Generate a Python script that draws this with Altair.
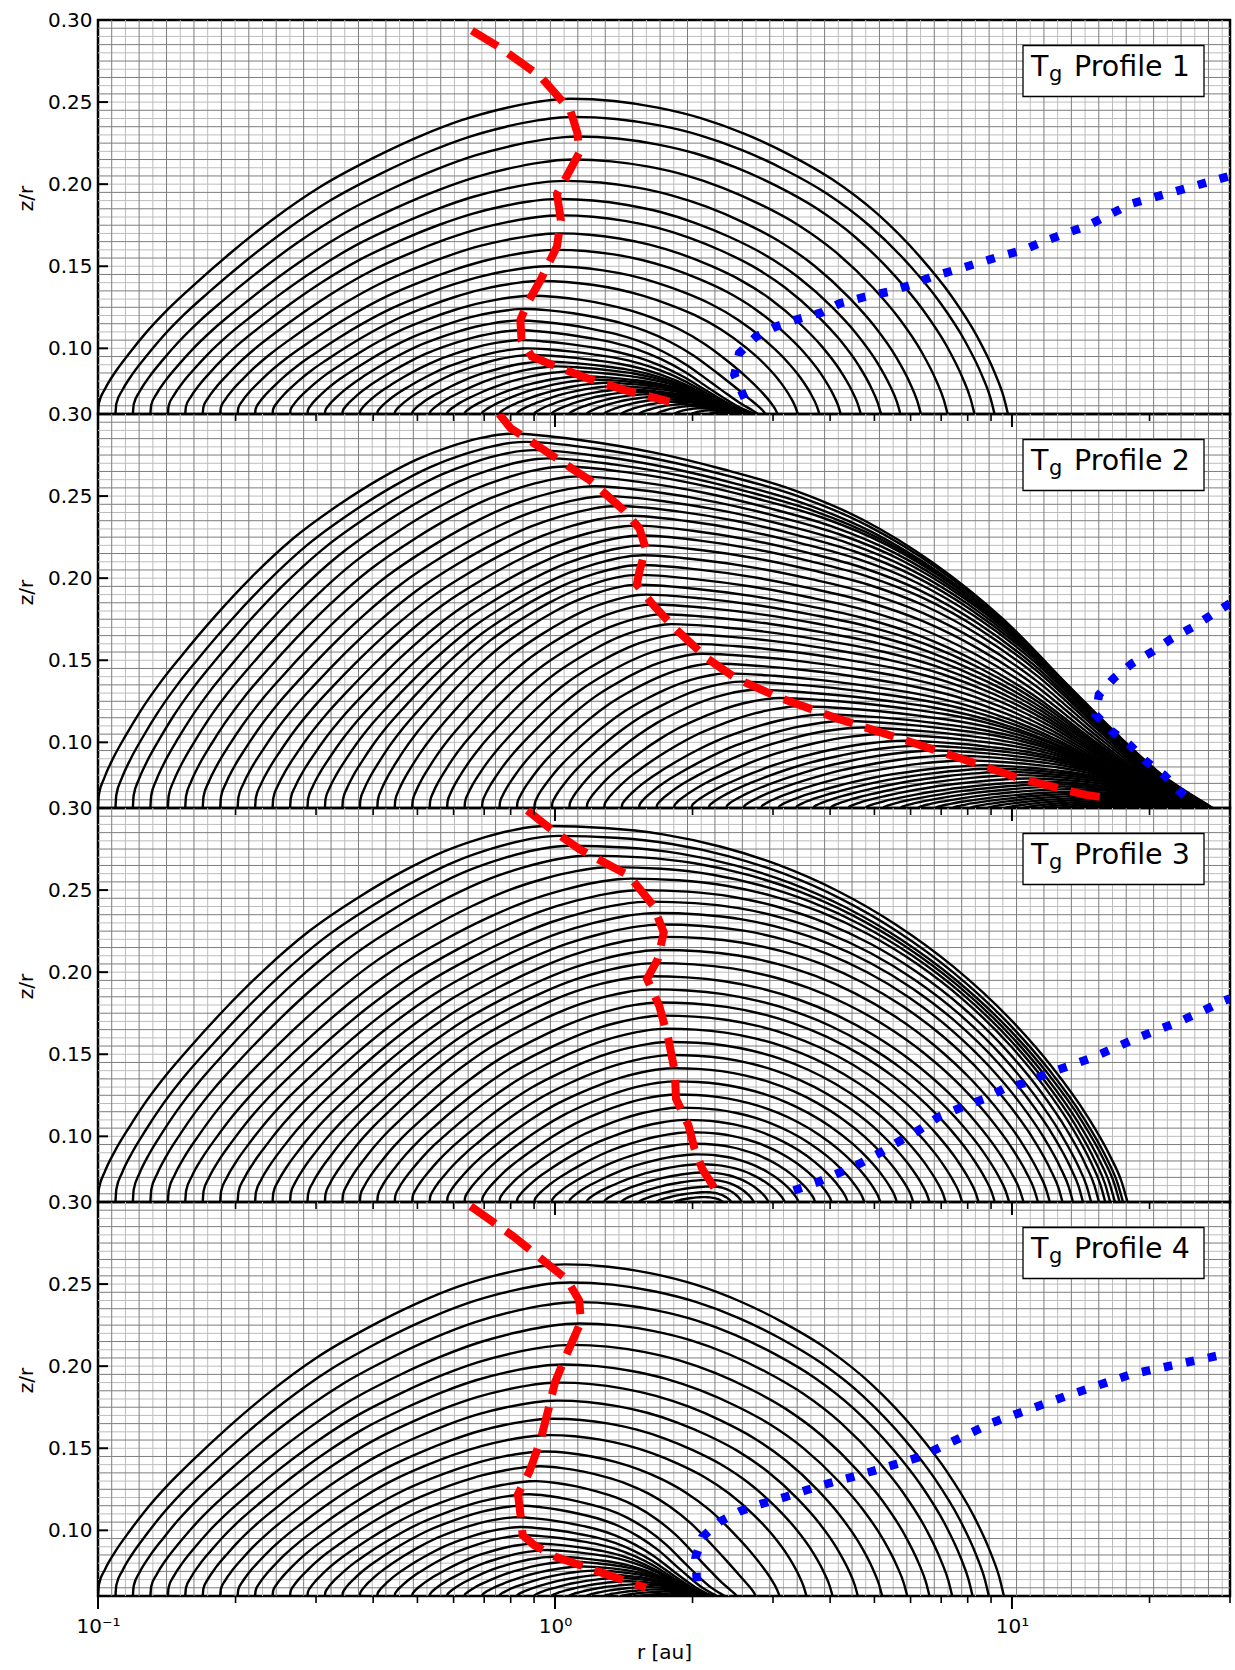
import numpy as np
import pandas as pd
import altair as alt

FONT = "DejaVu Sans"
W, H = 1132, 394
Z_BASE = 0.06

# ---------------- axes / ticks ----------------
R_DOMAIN = [0.1, 30.0]
Z_DOMAIN = [0.06, 0.30]
Z_TICKS = [0.10, 0.15, 0.20, 0.25, 0.30]
R_MAJOR = [0.1, 1.0, 10.0]
R_MINOR = [0.2, 0.3, 0.4, 0.5, 0.6, 0.7, 0.8, 0.9, 2, 3, 4, 5, 6, 7, 8, 9, 20, 30]
PANEL_LABELS = ["Profile 1", "Profile 2", "Profile 3", "Profile 4"]

# background mesh (evenly spaced in log r, 0.005 in z/r)
GRID_R = [round(10 ** (-1 + 0.03 * k), 5) for k in range(1, 83)]
GRID_Z = [round(0.06 + 0.005 * k, 3) for k in range(1, 48)]

# ---------------- contour families ----------------
# inner (left) feet of the arches
INNER_FOOT_R = [0.1, 0.1092, 0.1192, 0.1302, 0.1422, 0.1552, 0.1695, 0.1851, 0.2021, 0.2207,
                0.241, 0.2632, 0.2873, 0.3137, 0.3426, 0.3741, 0.4085, 0.446, 0.487, 0.5319,
                0.5808, 0.6342, 0.6925, 0.7562, 0.8258, 0.9016, 0.9845, 1.0751, 1.1739, 1.2818,
                1.3997, 1.5284, 1.6689, 1.8224, 1.9899, 2.1728, 2.3726, 2.5907, 2.829, 3.0891,
                3.3732, 3.6833, 4.022, 4.3918, 4.7956, 5.2366, 5.7181, 6.2439, 6.818, 7.4449,
                8.1295, 8.877, 9.6932, 10.584, 11.558, 12.62, 13.781, 15.048, 16.432, 17.943]

# normalised arch shapes
LEFT_T = [0, 0.002, 0.015, 0.037, 0.068, 0.10, 0.15, 0.20, 0.28, 0.37, 0.47, 0.58, 0.68, 0.77, 0.85, 0.92, 0.97, 1.0]
LEFT_S = [0, 0.035, 0.08, 0.134, 0.196, 0.255, 0.335, 0.405, 0.51, 0.617, 0.72, 0.81, 0.88, 0.932, 0.966, 0.988, 0.998, 1.0]
RIGHT_U = [0, 0.1, 0.2, 0.3, 0.4, 0.5, 0.6, 0.7, 0.8, 0.87, 0.93, 0.97, 0.99, 1.0]
RIGHT_S_STEEP = [1, 0.993, 0.972, 0.938, 0.888, 0.823, 0.743, 0.637, 0.497, 0.376, 0.245, 0.13, 0.055, 0]
RIGHT_S_FAN = [1, 0.982, 0.95, 0.905, 0.85, 0.77, 0.655, 0.505, 0.315, 0.185, 0.085, 0.035, 0.012, 0]
RIGHT_S_P3 = [1, 0.995, 0.978, 0.945, 0.896, 0.828, 0.739, 0.626, 0.483, 0.359, 0.23, 0.122, 0.053, 0]

# Panel 1
P1_ZPK = [0.252, 0.241, 0.229, 0.215, 0.202, 0.191, 0.181, 0.170, 0.160, 0.150,
          0.141, 0.132, 0.124, 0.117, 0.111, 0.105, 0.100, 0.096, 0.092, 0.089,
          0.086, 0.083, 0.081, 0.079, 0.077, 0.075, 0.0735, 0.072, 0.0705, 0.069,
          0.0675, 0.066, 0.0648, 0.0635, 0.0622, 0.061]
P1_RPK = [1.08, 1.10, 1.12, 1.10, 1.05, 1.02, 1.03, 1.02, 1.01, 0.97,
          0.93, 0.89, 0.86, 0.84, 0.84, 0.845, 0.87, 0.89, 0.95, 1.01,
          1.08, 1.15, 1.22, 1.30, 1.36, 1.42, 1.50, 1.58, 1.66, 1.74,
          1.82, 1.90, 1.98, 2.07, 2.17, 2.28]
P1_ROUT = [9.8, 9.16, 8.28, 7.23, 6.32, 5.7, 5.17, 4.67, 4.22, 3.79,
           3.40, 3.07, 2.89, 2.78, 2.74, 2.71, 2.69, 2.67, 2.66, 2.65,
           2.64, 2.63, 2.62, 2.61, 2.60, 2.59, 2.58, 2.57, 2.56, 2.55,
           2.54, 2.53, 2.52, 2.51, 2.49, 2.46]
P1_FAN = [0, 0, 0, 0, 0, 0, 0, 0, 0, 0, 0, 0.3, 0.6, 0.85, 1, 1, 1, 1, 1, 1,
          1, 1, 1, 1, 1, 1, 1, 1, 1, 1, 1, 1, 1, 1, 1, 1]

# Panel 2
P2_ZPK = [0.288, 0.283, 0.278, 0.273, 0.268, 0.262, 0.256, 0.250, 0.244, 0.238,
          0.232, 0.226, 0.220, 0.214, 0.208, 0.202, 0.196, 0.190, 0.184, 0.178,
          0.172, 0.166, 0.160, 0.154, 0.148, 0.142, 0.137, 0.132, 0.127, 0.122,
          0.117, 0.113, 0.109, 0.105, 0.101, 0.098, 0.095, 0.092, 0.089, 0.086,
          0.084, 0.082, 0.080, 0.078, 0.076, 0.0745, 0.073, 0.0715, 0.070, 0.0688,
          0.0676, 0.0665, 0.0655, 0.0645, 0.0636, 0.0628, 0.062, 0.0614, 0.0608, 0.0603]
P2_RPK = [0.81, 0.86, 0.90, 0.97, 1.05, 1.13, 1.22, 1.30, 1.38, 1.45,
          1.50, 1.55, 1.57, 1.56, 1.54, 1.52, 1.52, 1.58, 1.64, 1.72,
          1.80, 1.90, 2.00, 2.10, 2.22, 2.38, 2.55, 2.75, 3.10, 3.45,
          3.90, 4.30, 4.70, 5.20, 5.80, 6.30, 6.80, 7.40, 8.00, 8.70,
          9.20, 9.80, 10.4, 11.0, 11.7, 12.3, 12.9, 13.5, 14.1, 14.6,
          15.1, 15.7, 16.3, 16.9, 17.6, 18.3, 19.1, 20.0, 21.0, 22.0]
P2_ROUT = [27.5, 27.4, 27.3, 27.2, 27.1, 27.0, 26.9, 26.8, 26.7, 26.6,
           26.5, 26.45, 26.4, 26.35, 26.3, 26.25, 26.2, 26.15, 26.1, 26.05,
           26.0, 25.95, 25.9, 25.85, 25.8, 25.75, 25.7, 25.65, 25.6, 25.55,
           25.5, 25.45, 25.4, 25.35, 25.3, 25.25, 25.2, 25.15, 25.1, 25.05,
           25.0, 24.95, 24.9, 24.85, 24.8, 24.75, 24.7, 24.65, 24.6, 24.55,
           24.5, 24.45, 24.4, 24.35, 24.3, 24.25, 24.2, 24.1, 24.0, 23.9]

# Panel 3
P3_ZPK = [0.289, 0.283, 0.277, 0.271, 0.264, 0.257, 0.250, 0.243, 0.236, 0.229,
          0.2215, 0.2135, 0.2055, 0.1975, 0.1895, 0.1815, 0.1735, 0.1655, 0.1575, 0.1495,
          0.1415, 0.1335, 0.1255, 0.1175, 0.110, 0.1025, 0.0955, 0.089, 0.083, 0.078,
          0.0735, 0.0695, 0.066, 0.063]
P3_RPK = [0.96, 1.02, 1.08, 1.19, 1.33, 1.47, 1.55, 1.62, 1.67, 1.71,
          1.72, 1.70, 1.66, 1.61, 1.63, 1.69, 1.72, 1.75, 1.78, 1.80,
          1.82, 1.83, 1.84, 1.88, 1.93, 1.98, 2.01, 2.04, 2.08, 2.12,
          2.16, 2.20, 2.14, 2.12]
P3_ROUT = [17.9, 17.5, 17.2, 16.8, 16.4, 16.0, 15.5, 14.9, 14.3, 13.6,
           12.9, 12.1, 11.4, 10.6, 9.86, 9.17, 8.45, 7.78, 7.16, 6.6,
           6.08, 5.6, 5.15, 4.75, 4.37, 4.03, 3.71, 3.41, 3.18, 2.93,
           2.72, 2.56, 2.43, 2.33]

# Panel 4
P4_ZPK = [0.262, 0.251, 0.239, 0.226, 0.213, 0.201, 0.190, 0.179, 0.168, 0.158,
          0.148, 0.139, 0.130, 0.122, 0.115, 0.108, 0.102, 0.097, 0.092, 0.088,
          0.084, 0.081, 0.078, 0.0755, 0.073, 0.071, 0.069, 0.0672, 0.0655, 0.064,
          0.0627, 0.0615, 0.0605]
P4_RPK = [1.05, 1.08, 1.12, 1.13, 1.09, 1.04, 1.02, 1.01, 0.99, 0.97,
          0.95, 0.93, 0.91, 0.88, 0.85, 0.83, 0.84, 0.86, 0.91, 0.96,
          1.0, 1.08, 1.15, 1.23, 1.3, 1.38, 1.45, 1.53, 1.6, 1.68,
          1.75, 1.82, 1.88]
P4_ROUT = [9.6, 8.9, 8.2, 7.4, 6.6, 5.9, 5.2, 4.6, 4.05, 3.55,
           3.1, 2.75, 2.5, 2.35, 2.26, 2.21, 2.18, 2.16, 2.14, 2.13,
           2.12, 2.11, 2.10, 2.09, 2.08, 2.07, 2.06, 2.05, 2.04, 2.03,
           2.02, 2.01, 2.0]
P4_FAN = [0, 0, 0, 0, 0, 0, 0, 0, 0, 0, 0.3, 0.6, 0.85, 1, 1, 1, 1, 1, 1, 1,
          1, 1, 1, 1, 1, 1, 1, 1, 1, 1, 1, 1, 1]

# ---------------- red dashed and blue dotted curves ----------------
RED_R = [
    [0.658, 0.76, 0.93, 1.08, 1.12, 1.13, 1.05, 1.01, 1.03, 1.01, 0.93, 0.87, 0.84, 0.845, 0.89, 1.01, 1.18, 1.42, 1.78],
    [0.755, 0.80, 0.91, 1.10, 1.19, 1.25, 1.41, 1.53, 1.58, 1.53, 1.51, 1.64, 1.83, 2.15, 2.49, 3.06, 4.14, 5.66, 7.7, 10.4, 14.5, 16.3],
    [0.87, 0.978, 1.13, 1.22, 1.45, 1.64, 1.73, 1.68, 1.59, 1.69, 1.77, 1.83, 1.84, 1.96, 2.02, 2.1, 2.24],
    [0.654, 0.811, 1.06, 1.13, 1.14, 1.05, 1.0, 0.97, 0.93, 0.88, 0.83, 0.84, 0.85, 0.9, 1.0, 1.25, 1.58],
]
RED_Z = [
    [0.2935, 0.283, 0.2655, 0.245, 0.231, 0.219, 0.2025, 0.194, 0.178, 0.162, 0.1416, 0.1274, 0.1173, 0.105, 0.095, 0.0888, 0.0817, 0.0746, 0.0675],
    [0.30, 0.2913, 0.2812, 0.266, 0.2598, 0.2547, 0.2416, 0.2304, 0.218, 0.204, 0.196, 0.1837, 0.1695, 0.1512, 0.139, 0.1278, 0.1146, 0.1025, 0.0903, 0.078, 0.068, 0.066],
    [0.2985, 0.2873, 0.275, 0.27, 0.2589, 0.2406, 0.2243, 0.2081, 0.1959, 0.1797, 0.1594, 0.139, 0.1229, 0.1066, 0.0924, 0.0802, 0.068],
    [0.2974, 0.279, 0.253, 0.24, 0.227, 0.2045, 0.19, 0.175, 0.155, 0.136, 0.122, 0.110, 0.097, 0.091, 0.084, 0.0747, 0.065],
]
BLUE_R = [
    [2.6, 2.47, 2.53, 2.75, 3.03, 3.42, 3.85, 4.2, 4.78, 5.38, 6.0, 6.7, 7.5, 8.4, 9.4, 10.6, 11.8, 13.1, 14.7, 18.2, 30.0],
    [30.0, 27.3, 24.8, 22.4, 20.4, 18.3, 16.7, 15.5, 15.25, 16.5, 18.1, 19.6, 21.5, 23.3, 24.5],
    [3.33, 3.75, 4.14, 4.64, 5.13, 5.67, 6.3, 6.9, 7.8, 8.72, 9.6, 10.8, 12.1, 13.4, 15.0, 16.8, 18.6, 20.7, 23.3, 25.8, 28.6, 30.0],
    [2.044, 2.03, 2.1, 2.29, 2.54, 2.85, 3.18, 3.57, 3.99, 4.48, 5.02, 5.6, 6.3, 9.08, 13.2, 18.2, 30.0],
]
BLUE_Z = [
    [0.0695, 0.0838, 0.097, 0.107, 0.113, 0.118, 0.122, 0.1274, 0.1315, 0.1345, 0.1386, 0.1437, 0.1477, 0.1518, 0.156, 0.160, 0.1654, 0.170, 0.175, 0.188, 0.205],
    [0.1847, 0.1776, 0.170, 0.1634, 0.1557, 0.148, 0.139, 0.129, 0.1167, 0.107, 0.0984, 0.0887, 0.0802, 0.070, 0.064],
    [0.067, 0.072, 0.0772, 0.0833, 0.0898, 0.097, 0.1043, 0.1118, 0.118, 0.1229, 0.129, 0.133, 0.139, 0.143, 0.148, 0.154, 0.1594, 0.1645, 0.170, 0.1756, 0.1817, 0.184],
    [0.069, 0.0833, 0.0959, 0.1052, 0.1117, 0.1164, 0.1202, 0.1247, 0.1288, 0.1326, 0.1365, 0.1405, 0.1448, 0.1657, 0.182, 0.195, 0.208],
]

PANELS = [
    dict(zpk=P1_ZPK, rpk=P1_RPK, rout=P1_ROUT, fan=P1_FAN, steep=RIGHT_S_STEEP),
    dict(zpk=P2_ZPK, rpk=P2_RPK, rout=P2_ROUT, fan=[1] * len(P2_ZPK), steep=RIGHT_S_STEEP),
    dict(zpk=P3_ZPK, rpk=P3_RPK, rout=P3_ROUT, fan=[0] * len(P3_ZPK), steep=RIGHT_S_P3),
    dict(zpk=P4_ZPK, rpk=P4_RPK, rout=P4_ROUT, fan=P4_FAN, steep=RIGHT_S_STEEP),
]


def curves_df(p):
    rows = []
    lt, ls, ru = np.array(LEFT_T), np.array(LEFT_S), np.array(RIGHT_U)
    for k in range(len(p["zpk"])):
        a = np.log10(INNER_FOOT_R[k])
        b = np.log10(p["rpk"][k])
        c = np.log10(p["rout"][k])
        w = p["fan"][k]
        rs = (1 - w) * np.array(p["steep"]) + w * np.array(RIGHT_S_FAN)
        h = p["zpk"][k] - Z_BASE
        xs = np.concatenate([a + lt * (b - a), (b + ru * (c - b))[1:]])
        zs = np.concatenate([Z_BASE + ls * h, (Z_BASE + rs * h)[1:]])
        for i, (x, z) in enumerate(zip(xs, zs)):
            rows.append({"c": k, "i": i, "r": float(10 ** x), "z": float(z)})
    return pd.DataFrame(rows)


XS = alt.Scale(type="log", domain=R_DOMAIN, nice=False)
YS = alt.Scale(domain=Z_DOMAIN, nice=False, zero=False)

AXY = alt.Axis(values=Z_TICKS, format=".2f", ticks=False, tickSize=0, domain=False, grid=False,
               labelFontSize=20, labelPadding=6, labelColor="black", labelFont=FONT,
               title="z/r", titleFontSize=20, titleFontWeight="normal", titleColor="black",
               titleFont=FONT, titleX=-72, titleY=178, titleAlign="center", titleBaseline="middle")
AXX_BOTTOM = alt.Axis(values=R_MAJOR,
                      labelExpr="datum.value < 0.5 ? '10\u207b\u00b9' : (datum.value < 5 ? '10\u2070' : '10\u00b9')",
                      labelFlush=False, labelOverlap=False, ticks=False, tickSize=0, domain=False, grid=False,
                      labelFontSize=20, labelPadding=20, labelColor="black", labelFont=FONT,
                      title="r [au]", titleFontSize=20, titleFontWeight="normal", titleColor="black",
                      titleFont=FONT, titlePadding=6)

ONE = pd.DataFrame({"o": [0]})


def panel(idx):
    p = PANELS[idx]
    bottom = idx == 3
    axx = AXX_BOTTOM if bottom else None
    X = lambda f: alt.X(f, scale=XS, axis=axx)
    Y = lambda f: alt.Y(f, scale=YS, axis=AXY)

    gr = pd.DataFrame({"gr": GRID_R, "d": [k % 2 for k in range(len(GRID_R))]})
    gz = pd.DataFrame({"gz": GRID_Z, "d": [k % 2 for k in range(len(GRID_Z))]})
    layers = [
        alt.Chart(gr[gr.d == 1]).mark_rule(color="#bdbdbd", strokeWidth=1).encode(x=X("gr:Q")),
        alt.Chart(gz[gz.d == 1]).mark_rule(color="#bdbdbd", strokeWidth=1).encode(y=Y("gz:Q")),
        alt.Chart(gr[gr.d == 0]).mark_rule(color="#7d7d7d", strokeWidth=1).encode(x=X("gr:Q")),
        alt.Chart(gz[gz.d == 0]).mark_rule(color="#7d7d7d", strokeWidth=1).encode(y=Y("gz:Q")),
        alt.Chart(curves_df(p)).mark_line(interpolate="monotone", color="black", strokeWidth=2.4, clip=True)
        .encode(x=X("r:Q"), y=Y("z:Q"), detail="c:N", order="i:Q"),
        alt.Chart(pd.DataFrame({"r": RED_R[idx], "z": RED_Z[idx], "i": range(len(RED_R[idx]))}))
        .mark_line(color="#ff0000", strokeWidth=8, strokeDash=[30, 13], strokeCap="butt", clip=True)
        .encode(x=X("r:Q"), y=Y("z:Q"), order="i:Q"),
        alt.Chart(pd.DataFrame({"r": BLUE_R[idx], "z": BLUE_Z[idx], "i": range(len(BLUE_R[idx]))}))
        .mark_line(color="#0000ff", strokeWidth=8.5, strokeDash=[8.5, 14], strokeCap="butt", clip=True)
        .encode(x=X("r:Q"), y=Y("z:Q"), order="i:Q"),
        # y ticks (inward)
        alt.Chart(pd.DataFrame({"t": Z_TICKS})).mark_rule(color="black", strokeWidth=2)
        .encode(y=Y("t:Q"), x=alt.value(0), x2=alt.value(10)),
    ]
    if idx > 0:
        # ticks of the panel above, hanging into this one
        layers.append(alt.Chart(pd.DataFrame({"t": R_MINOR})).mark_rule(color="black", strokeWidth=1.6)
                      .encode(x=X("t:Q"), y=alt.value(0), y2=alt.value(7)))
        layers.append(alt.Chart(pd.DataFrame({"t": R_MAJOR})).mark_rule(color="black", strokeWidth=2)
                      .encode(x=X("t:Q"), y=alt.value(0), y2=alt.value(13)))
    if bottom:
        layers.append(alt.Chart(pd.DataFrame({"t": R_MINOR})).mark_rule(color="black", strokeWidth=1.6)
                      .encode(x=X("t:Q"), y=alt.value(H), y2=alt.value(H + 7)))
        layers.append(alt.Chart(pd.DataFrame({"t": R_MAJOR})).mark_rule(color="black", strokeWidth=2)
                      .encode(x=X("t:Q"), y=alt.value(H), y2=alt.value(H + 13)))
    # label box
    layers.append(alt.Chart(ONE).mark_rect(fill="white", stroke="black", strokeWidth=1.3)
                  .encode(x=alt.value(925), x2=alt.value(1106), y=alt.value(25.5), y2=alt.value(76.5)))
    layers.append(alt.Chart(ONE).mark_text(text="T", align="left", baseline="alphabetic", fontSize=28.5,
                                           font=FONT, color="black")
                  .encode(x=alt.value(933), y=alt.value(56)))
    layers.append(alt.Chart(ONE).mark_text(text="g", align="left", baseline="alphabetic", fontSize=21,
                                           font=FONT, color="black")
                  .encode(x=alt.value(951), y=alt.value(61)))
    layers.append(alt.Chart(ONE).mark_text(text=PANEL_LABELS[idx], align="left", baseline="alphabetic",
                                           fontSize=28.5, font=FONT, color="black")
                  .encode(x=alt.value(976), y=alt.value(56)))
    if idx == 0:
        # invisible anchor fixing the page offset of the plot area
        layers.append(alt.Chart(ONE).mark_rule(strokeOpacity=0, opacity=0)
                      .encode(x=alt.value(-96), x2=alt.value(-96), y=alt.value(-18), y2=alt.value(-18)))
    return alt.layer(*layers).properties(width=W, height=H)


chart = alt.vconcat(*[panel(i) for i in range(4)], spacing=0, bounds="flush").properties(
    padding=0
).configure_view(stroke="black", strokeWidth=2.5).configure_axis(labelFont=FONT, titleFont=FONT)

chart.save("out.html", embed_options={"renderer": "svg", "actions": False})
